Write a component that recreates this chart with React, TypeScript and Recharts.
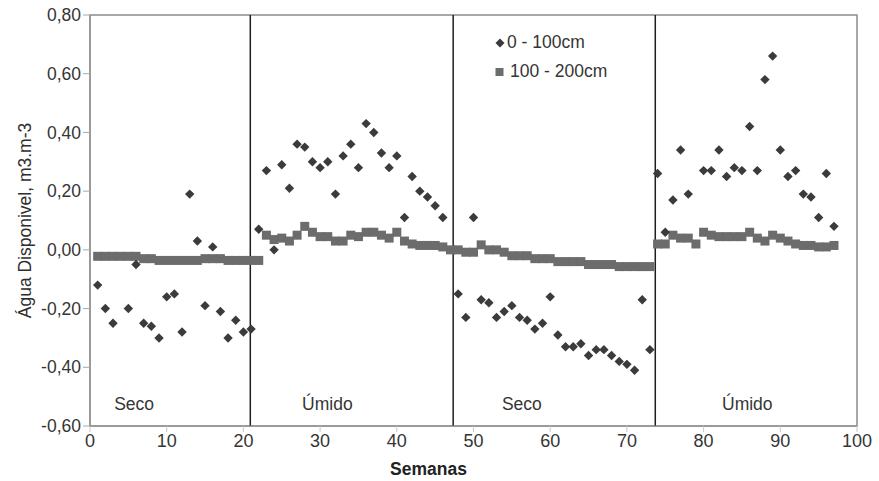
import React from 'react';
import {
  ScatterChart,
  Scatter,
  XAxis,
  YAxis,
  ReferenceLine,
  ReferenceArea,
  ReferenceDot,
  Label,
} from 'recharts';

// 0 - 100cm (diamonds)
const weeksShallow = [
  1, 2, 3, 5, 6, 7, 8, 9, 10, 11, 12, 13, 14, 15, 16, 17, 18, 19, 20, 21,
  22, 23, 24, 25, 26, 27, 28, 29, 30, 31, 32, 33, 34, 35, 36, 37, 38, 39, 40, 41, 42, 43, 44, 45, 46,
  48, 49, 50, 51, 52, 53, 54, 55, 56, 57, 58, 59, 60, 61, 62, 63, 64, 65, 66, 67, 68, 69, 70, 71, 72, 73,
  74, 75, 76, 77, 78, 80, 81, 82, 83, 84, 85, 86, 87, 88, 89, 90, 91, 92, 93, 94, 95, 96, 97,
];
const valuesShallow = [
  -0.12, -0.2, -0.25, -0.2, -0.05, -0.25, -0.26, -0.3, -0.16, -0.15, -0.28, 0.19, 0.03, -0.19, 0.01, -0.21, -0.3, -0.24, -0.28, -0.27,
  0.07, 0.27, 0.0, 0.29, 0.21, 0.36, 0.35, 0.3, 0.28, 0.3, 0.19, 0.32, 0.36, 0.28, 0.43, 0.4, 0.33, 0.28, 0.32, 0.11, 0.25, 0.2, 0.18, 0.15, 0.11,
  -0.15, -0.23, 0.11, -0.17, -0.18, -0.23, -0.21, -0.19, -0.23, -0.24, -0.27, -0.25, -0.16, -0.29, -0.33, -0.33, -0.32, -0.36, -0.34, -0.34, -0.36, -0.38, -0.39, -0.41, -0.17, -0.34,
  0.26, 0.06, 0.17, 0.34, 0.19, 0.27, 0.27, 0.34, 0.25, 0.28, 0.27, 0.42, 0.27, 0.58, 0.66, 0.34, 0.25, 0.27, 0.19, 0.18, 0.11, 0.26, 0.08,
];

// 100 - 200cm (squares), weeks 1..97
const weeksDeep = Array.from({ length: 97 }, (_, i) => i + 1);
const valuesDeep = [
  -0.022, -0.022, -0.022, -0.022, -0.022, -0.022, -0.03, -0.03, -0.036, -0.036,
  -0.036, -0.036, -0.036, -0.036, -0.03, -0.03, -0.03, -0.036, -0.036, -0.036,
  -0.036, -0.036, 0.05, 0.035, 0.04, 0.03, 0.05, 0.08, 0.06, 0.045,
  0.045, 0.03, 0.03, 0.05, 0.045, 0.06, 0.06, 0.05, 0.04, 0.06,
  0.03, 0.02, 0.015, 0.015, 0.015, 0.01, 0.0, 0.0, -0.008, -0.008,
  0.017, 0.0, 0.0, -0.008, -0.02, -0.02, -0.02, -0.03, -0.03, -0.03,
  -0.04, -0.04, -0.04, -0.04, -0.05, -0.05, -0.05, -0.05, -0.057, -0.057,
  -0.057, -0.057, -0.057, 0.02, 0.02, 0.05, 0.04, 0.04, 0.02, 0.06,
  0.05, 0.045, 0.045, 0.045, 0.045, 0.06, 0.04, 0.03, 0.05, 0.04,
  0.03, 0.02, 0.015, 0.015, 0.01, 0.01, 0.015,
];

const xTicks = [0, 10, 20, 30, 40, 50, 60, 70, 80, 90, 100];
const yTicks = [-0.6, -0.4, -0.2, 0, 0.2, 0.4, 0.6, 0.8];
const seasonBoundaries = [20.9, 47.35, 73.7];
const seasonLabels = ['Seco', 'Úmido', 'Seco', 'Úmido'];
const seasonLabelWeeks = [5.75, 30.95, 56.3, 85.7];
const seasonLabelValue = -0.525;
const legendNames = ['0 - 100cm', '100 - 200cm'];

const dataShallow = weeksShallow.map((w, i) => ({ x: w, y: valuesShallow[i] }));
const dataDeep = weeksDeep.map((w, i) => ({ x: w, y: valuesDeep[i] }));

const FONT = '"Liberation Sans", Arial, sans-serif';
const DIAMOND_COLOR = '#3b3b3b';
const SQUARE_COLOR = '#6c6c6c';
const AXIS_COLOR = '#8c8c8c';
const TEXT_COLOR = '#353535';

const Diamond = (props: any) => {
  const { cx, cy } = props;
  if (cx == null || cy == null) return null;
  const h = 4.7;
  return (
    <path
      d={`M${cx},${cy - h}L${cx + h},${cy}L${cx},${cy + h}L${cx - h},${cy}Z`}
      fill={DIAMOND_COLOR}
    />
  );
};

const Square = (props: any) => {
  const { cx, cy } = props;
  if (cx == null || cy == null) return null;
  const s = 9;
  return <rect x={cx - s / 2} y={cy - s / 2} width={s} height={s} fill={SQUARE_COLOR} />;
};

const fmt = (v: number) => v.toFixed(2).replace('.', ',');

const LegendBox = () => (
  <div
    style={{
      position: 'absolute',
      left: 494,
      top: 28,
      fontFamily: FONT,
      fontSize: 17.5,
      color: TEXT_COLOR,
      lineHeight: '29px',
    }}
  >
    <div style={{ display: 'flex', alignItems: 'center', height: 29 }}>
      <svg width={12} height={12} style={{ marginRight: 1 }}>
        <path d="M6,1.5L10.5,6L6,10.5L1.5,6Z" fill={DIAMOND_COLOR} />
      </svg>
      <span>{legendNames[0]}</span>
    </div>
    <div style={{ display: 'flex', alignItems: 'center', height: 29 }}>
      <svg width={12} height={12} style={{ marginRight: 4 }}>
        <rect x={1.5} y={2} width={8} height={8} fill={SQUARE_COLOR} />
      </svg>
      <span>{legendNames[1]}</span>
    </div>
  </div>
);

const YTitle = (props: any) => {
  const vb = props.viewBox || { x: 0, y: 15, width: 90, height: 411 };
  const cx = 25;
  const cy = vb.y + vb.height / 2;
  return (
    <text
      x={cx}
      y={cy}
      transform={`rotate(-90 ${cx} ${cy})`}
      textAnchor="middle"
      dominantBaseline="central"
      fontFamily={FONT}
      fontSize={17.5}
      fill="#2e2e2e"
    >
      Água Disponivel, m3.m-3
    </text>
  );
};

export default function App() {
  return (
    <div style={{ position: 'absolute', left: 0, top: 0, width: 879, height: 481, background: '#fff' }}>
      <ScatterChart width={879} height={481} margin={{ top: 15, right: 22, bottom: 0, left: 0 }}>
        <XAxis
          type="number"
          dataKey="x"
          domain={[0, 100]}
          ticks={xTicks}
          interval={0}
          height={55}
          stroke={AXIS_COLOR}
          tickLine={{ stroke: '#c8c8c8' }}
          tick={{ fill: TEXT_COLOR, fontSize: 18, fontFamily: FONT }}
          allowDataOverflow
        >
          <Label
            value="Semanas"
            position="insideBottom"
            offset={6}
            dx={-45}
            style={{ fontFamily: FONT, fontSize: 17.5, fontWeight: 'bold', fill: '#222' }}
          />
        </XAxis>
        <YAxis
          type="number"
          dataKey="y"
          domain={[-0.6, 0.8]}
          ticks={yTicks}
          interval={0}
          width={90}
          stroke={AXIS_COLOR}
          tickLine={{ stroke: '#a8a8a8' }}
          tickSize={7}
          tickFormatter={fmt}
          tick={{ fill: TEXT_COLOR, fontSize: 17.5, fontFamily: FONT }}
          allowDataOverflow
        >
          <Label content={<YTitle />} />
        </YAxis>
        <ReferenceArea
          x1={0}
          x2={100}
          y1={-0.6}
          y2={0.8}
          fill="none"
          stroke={AXIS_COLOR}
          strokeWidth={1.5}
          ifOverflow="visible"
        />
        {seasonBoundaries.map((b) => (
          <ReferenceLine key={b} x={b} stroke="#1e1e1e" strokeWidth={1.5} />
        ))}
        {seasonLabels.map((t, i) => (
          <ReferenceDot
            key={i}
            x={seasonLabelWeeks[i]}
            y={seasonLabelValue}
            r={0}
            fill="none"
            stroke="none"
            label={{ value: t, position: 'center', fill: TEXT_COLOR, fontSize: 17.5, fontFamily: FONT }}
          />
        ))}
        <Scatter
          name={legendNames[1]}
          data={dataDeep}
          shape={<Square />}
          isAnimationActive={false}
        />
        <Scatter
          name={legendNames[0]}
          data={dataShallow}
          shape={<Diamond />}
          isAnimationActive={false}
        />
      </ScatterChart>
      <LegendBox />
    </div>
  );
}
